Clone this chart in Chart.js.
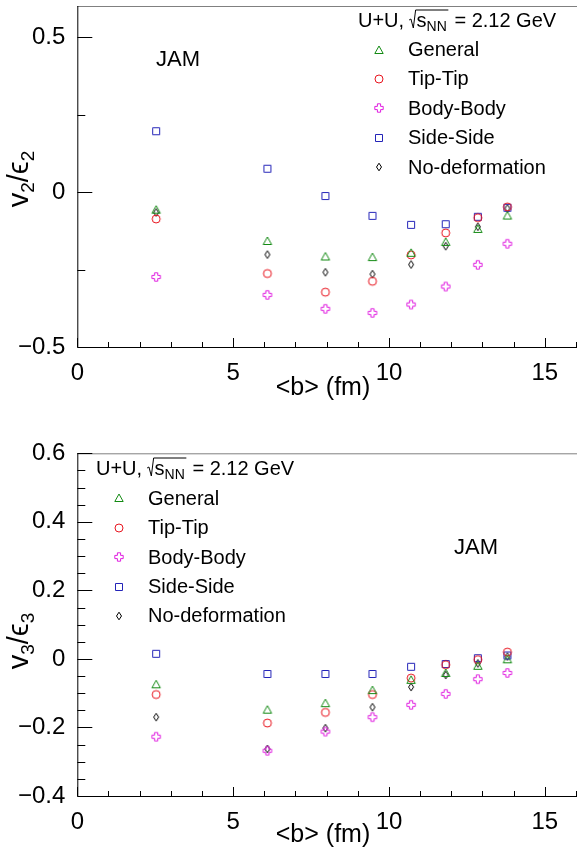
<!DOCTYPE html>
<html>
<head>
<meta charset="utf-8">
<script src="https://cdn.jsdelivr.net/npm/chart.js@4.4.1/dist/chart.umd.min.js"></script>
<style>
  html, body { margin: 0; padding: 0; background: #fff; overflow: hidden; }
  .panel { position: absolute; left: 0; }
</style>
</head>
<body>
<div class="panel" style="top:0"><canvas id="v2chart" width="582" height="423"></canvas></div>
<div class="panel" style="top:423px"><canvas id="v3chart" width="582" height="424"></canvas></div>
<script>
// impact parameter <b> (fm)
const bVals = [2.53, 6.10, 7.96, 9.47, 10.71, 11.82, 12.85, 13.80];
const seriesNames = ["General", "Tip-Tip", "Body-Body", "Side-Side", "No-deformation"];

// v2/eps2
const v2General  = [-0.057, -0.158, -0.208, -0.210, -0.196, -0.161, -0.119, -0.076];
const v2TipTip   = [-0.087, -0.263, -0.323, -0.288, -0.203, -0.132, -0.083, -0.048];
const v2BodyBody = [-0.274, -0.332, -0.377, -0.390, -0.363, -0.305, -0.235, -0.167];
const v2SideSide = [0.196, 0.075, -0.013, -0.077, -0.106, -0.104, -0.080, -0.051];
const v2NoDef    = [-0.066, -0.202, -0.259, -0.265, -0.234, -0.175, -0.112, -0.053];

// v3/eps3
const v3General  = [-0.074, -0.148, -0.129, -0.091, -0.061, -0.041, -0.020, -0.001];
const v3TipTip   = [-0.104, -0.187, -0.156, -0.104, -0.056, -0.017, -0.002, 0.020];
const v3BodyBody = [-0.227, -0.268, -0.212, -0.170, -0.134, -0.102, -0.059, -0.041];
const v3SideSide = [0.015, -0.044, -0.044, -0.044, -0.023, -0.015, 0.002, 0.010];
const v3NoDef    = [-0.170, -0.263, -0.202, -0.141, -0.082, -0.047, -0.013, 0.007];

// axis ticks
const xTicks = [0, 5, 10, 15];
const v2Ticks = [-0.5, 0, 0.5];
const v3Ticks = [-0.4, -0.2, 0, 0.2, 0.4, 0.6];

const FONT = '"Liberation Sans", Arial, Helvetica, sans-serif';
Chart.defaults.font.family = FONT;
Chart.defaults.color = "#000";

// ROOT-like open markers drawn into little canvases
function marker(kind, color) {
  const c = document.createElement("canvas");
  c.width = 12; c.height = 12;
  const g = c.getContext("2d");
  g.strokeStyle = color;
  g.lineWidth = 1;
  g.beginPath();
  if (kind === "triangle") {
    g.moveTo(6, 2); g.lineTo(1.8, 9.5); g.lineTo(10.2, 9.5); g.closePath();
  } else if (kind === "circle") {
    g.arc(6, 6, 4, 0, Math.PI * 2);
  } else if (kind === "square") {
    g.rect(2.5, 2.5, 7, 7);
  } else if (kind === "cross") {
    const a = 1.6, l = 4.2;
    g.moveTo(6 - a, 6 - l); g.lineTo(6 + a, 6 - l); g.lineTo(6 + a, 6 - a);
    g.lineTo(6 + l, 6 - a); g.lineTo(6 + l, 6 + a); g.lineTo(6 + a, 6 + a);
    g.lineTo(6 + a, 6 + l); g.lineTo(6 - a, 6 + l); g.lineTo(6 - a, 6 + a);
    g.lineTo(6 - l, 6 + a); g.lineTo(6 - l, 6 - a); g.lineTo(6 - a, 6 - a);
    g.closePath();
  } else if (kind === "diamond") {
    g.moveTo(6, 2.2); g.lineTo(8.5, 6); g.lineTo(6, 9.8); g.lineTo(3.5, 6); g.closePath();
  }
  g.stroke();
  return c;
}

const markers = [
  marker("triangle", "#138a13"),
  marker("circle", "#e8141e"),
  marker("cross", "#e01ee0"),
  marker("square", "#2424b8"),
  marker("diamond", "#000000")
];

function makeDatasets(lists) {
  return lists.map((vals, i) => ({
    label: seriesNames[i],
    data: bVals.map((b, j) => ({ x: b, y: vals[j] })),
    showLine: false,
    pointStyle: markers[i],
    pointRadius: 5,
    clip: false
  }));
}

function fmt(v) {
  return Number(v.toFixed(2)).toString().replace("-", "\u2212");
}

// sub/superscript helper: parts = [[text, size, dy]]
function drawParts(ctx, parts, x, y) {
  for (const [t, size, dy] of parts) {
    ctx.font = size + "px " + FONT;
    ctx.fillText(t, x, y + dy);
    x += ctx.measureText(t).width;
  }
  return x;
}
function partsWidth(ctx, parts) {
  let w = 0;
  for (const [t, size] of parts) {
    ctx.font = size + "px " + FONT;
    w += ctx.measureText(t).width;
  }
  return w;
}

function drawHeader(ctx, x, y) {
  ctx.fillStyle = "#000";
  ctx.textAlign = "left";
  ctx.textBaseline = "alphabetic";
  const base = y + 7;
  ctx.font = "20px " + FONT;
  ctx.fillText("U+U,", x, base);
  x += ctx.measureText("U+U,").width + 5;
  ctx.font = "20px " + FONT;
  const ws = ctx.measureText("s").width;
  ctx.font = "14px " + FONT;
  const wn = ctx.measureText("NN").width;
  // radical sign
  ctx.strokeStyle = "#000";
  ctx.lineWidth = 1;
  ctx.beginPath();
  ctx.moveTo(x, base - 7);
  ctx.lineTo(x + 1.8, base - 8);
  ctx.lineTo(x + 4.2, base + 1);
  ctx.lineTo(x + 6.5, base - 17);
  ctx.lineTo(x + 8 + ws + wn + 1, base - 17);
  ctx.stroke();
  x += 7.5;
  x = drawParts(ctx, [["s", 20, 0], ["NN", 14, 4]], x, base);
  ctx.font = "20px " + FONT;
  ctx.fillText(" = 2.12 GeV", x + 2, base);
}

const panelPlugin = {
  id: "panel",
  afterDraw(chart, args, o) {
    const ctx = chart.ctx;
    const xs = chart.scales.x, ys = chart.scales.y;
    const area = chart.chartArea;
    ctx.save();

    // frame
    ctx.lineWidth = 1;
    ctx.strokeStyle = "#808080";
    ctx.beginPath();
    ctx.moveTo(area.left, area.top + 0.5);
    ctx.lineTo(chart.width, area.top + 0.5);
    ctx.stroke();
    ctx.strokeStyle = "#000";
    ctx.beginPath();
    ctx.moveTo(area.left + 0.5, area.top);
    ctx.lineTo(area.left + 0.5, area.bottom + 0.5);
    ctx.lineTo(chart.width, area.bottom + 0.5);
    ctx.stroke();

    // inward ticks, x
    ctx.beginPath();
    const nx = Math.round((xs.max - xs.min) / 1);
    for (let k = 0; k <= nx; k++) {
      const v = xs.min + k;
      const px = Math.round(xs.getPixelForValue(v)) + 0.5;
      const len = xTicks.includes(v) ? 9 : 5;
      ctx.moveTo(px, area.bottom);
      ctx.lineTo(px, area.bottom - len);
    }
    // inward ticks, y
    const ny = Math.round((o.yMax - o.yMin) / o.yMinor);
    for (let k = 0; k <= ny; k++) {
      const v = o.yMin + k * o.yMinor;
      const major = o.yMajor.some(t => Math.abs(t - v) < 1e-6);
      const py = Math.round(ys.getPixelForValue(v)) + 0.5;
      ctx.moveTo(area.left, py);
      ctx.lineTo(area.left + (major ? 15 : 8), py);
    }
    ctx.stroke();

    // axis titles
    ctx.fillStyle = "#000";
    ctx.textAlign = "center";
    ctx.textBaseline = "middle";
    ctx.font = "25px " + FONT;
    ctx.fillText("<b> (fm)", o.xTitle[0], o.xTitle[1]);

    const parts = [["v", 29, 0], [o.n, 19, 6], ["/", 29, 0], ["\u03F5", 29, 0], [o.n, 19, 6]];
    ctx.save();
    ctx.translate(o.yTitle[0], o.yTitle[1]);
    ctx.rotate(-Math.PI / 2);
    ctx.textAlign = "left";
    ctx.textBaseline = "alphabetic";
    const w = partsWidth(ctx, parts);
    drawParts(ctx, parts, -w / 2, 0);
    ctx.restore();

    // JAM label
    ctx.textAlign = "center";
    ctx.textBaseline = "middle";
    ctx.font = "22px " + FONT;
    ctx.fillText("JAM", o.jam[0], o.jam[1]);

    // legend
    drawHeader(ctx, o.header[0], o.header[1]);
    ctx.textAlign = "left";
    ctx.textBaseline = "middle";
    ctx.font = "20px " + FONT;
    chart.data.datasets.forEach((ds, i) => {
      const yy = o.legend[1] + i * o.legend[2];
      const img = ds.pointStyle;
      ctx.drawImage(img, Math.round(o.legend[0] - img.width / 2), Math.round(yy - img.height / 2));
      ctx.fillText(ds.label, o.legend[0] + 29, yy + 1);
    });
    ctx.restore();
  }
};

function makeChart(id, lists, yMin, yMax, yTicks, yMinor, plotTop, plotBottom, panel) {
  const canvas = document.getElementById(id);
  return new Chart(canvas, {
    type: "scatter",
    data: { datasets: makeDatasets(lists) },
    plugins: [panelPlugin],
    options: {
      responsive: false,
      animation: false,
      devicePixelRatio: 1,
      layout: { padding: { top: plotTop, right: 2.3, left: 0, bottom: 0 } },
      plugins: {
        legend: { display: false },
        tooltip: { enabled: false },
        panel: Object.assign({ yMin, yMax, yMinor, yMajor: yTicks }, panel)
      },
      scales: {
        x: {
          type: "linear",
          min: 0,
          max: 16,
          grid: { display: false },
          border: { display: false },
          afterBuildTicks: s => { s.ticks = xTicks.map(v => ({ value: v })); },
          afterFit: s => {
            s.height = canvas.height - plotBottom;
            s.paddingLeft = 0; s.paddingRight = 0;
          },
          ticks: { font: { size: 24 }, color: "#000", padding: 4, maxRotation: 0, callback: v => fmt(v) }
        },
        y: {
          type: "linear",
          min: yMin,
          max: yMax,
          grid: { display: false },
          border: { display: false },
          afterBuildTicks: s => { s.ticks = yTicks.map(v => ({ value: v })); },
          afterFit: s => {
            s.width = 77.3;
            s.paddingTop = 0; s.paddingBottom = 0;
          },
          ticks: { font: { size: 24 }, color: "#000", padding: 4, callback: v => fmt(v) }
        }
      }
    }
  });
}

makeChart("v2chart",
  [v2General, v2TipTip, v2BodyBody, v2SideSide, v2NoDef],
  -0.5, 0.6, v2Ticks, 0.25, 5, 347,
  { n: "2", xTitle: [323, 388], yTitle: [28, 179], jam: [178, 60], header: [358, 20], legend: [379, 49.5, 29.4] });

makeChart("v3chart",
  [v3General, v3TipTip, v3BodyBody, v3SideSide, v3NoDef],
  -0.4, 0.6, v3Ticks, 0.05, 30.3, 373,
  { n: "3", xTitle: [323, 412], yTitle: [28, 218], jam: [476, 125], header: [96, 45], legend: [119, 75.3, 29.4] });
</script>
</body>
</html>
